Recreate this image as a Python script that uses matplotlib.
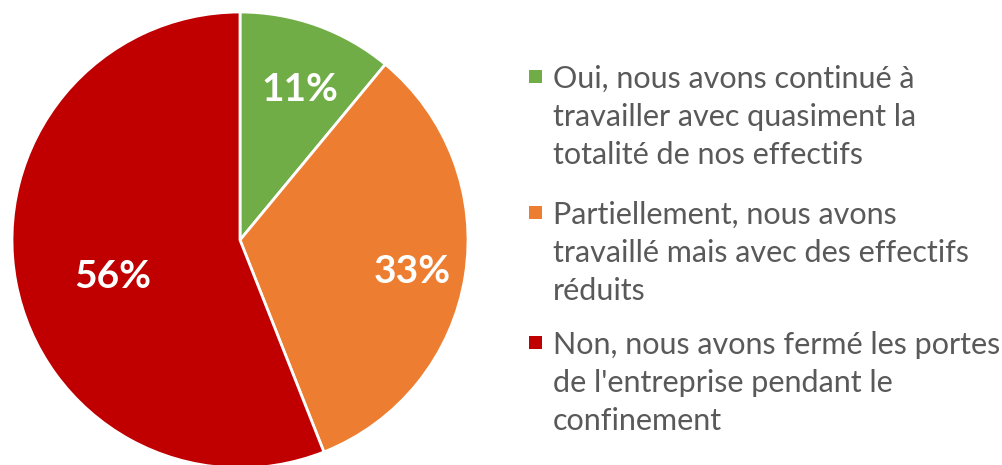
import matplotlib
matplotlib.use("Agg")
import matplotlib.pyplot as plt
from matplotlib.patches import Rectangle

plt.rcParams['font.family'] = ['Lato', 'DejaVu Sans']

# data
labels = ["Oui, nous avons continué à\ntravailler avec quasiment la\ntotalité de nos effectifs",
          "Partiellement, nous avons\ntravaillé mais avec des effectifs\nréduits",
          "Non, nous avons fermé les portes\nde l'entreprise pendant le\nconfinement"]
values = [11, 33, 56]
colors = ['#70AD47', '#ED7D31', '#C00000']

# where the percentage labels sit inside the pie (axes units, radius = 1)
pct_pos = [(0.263, 0.658), (0.754, -0.14), (-0.557, -0.162)]

W, H = 1002, 465
fig = plt.figure(figsize=(W / 100, H / 100), dpi=100)
ax = fig.add_axes([12 / W, -3 / H, 456 / W, 456 / H])

wedges, texts, autotexts = ax.pie(values, colors=colors, startangle=90, counterclock=False,
                                  autopct='%d%%',
                                  wedgeprops=dict(edgecolor='white', linewidth=2))
ax.set_aspect('equal')
ax.set_xlim(-1, 1)
ax.set_ylim(-1, 1)

for t, p in zip(autotexts, pct_pos):
    t.set_position(p)
    t.set_color('white')
    t.set_fontsize(28)
    t.set_fontweight('bold')

# legend drawn by hand: square + wrapped text, baselines in pixels from top
first_baselines = [88, 224, 354]
line_pitch = 38
for lab, c, y0 in zip(labels, colors, first_baselines):
    fig.patches.append(Rectangle((529 / W, 1 - (y0 - 5) / H), 13 / W, 13 / H,
                                 transform=fig.transFigure, facecolor=c, edgecolor='none'))
    for i, line in enumerate(lab.split('\n')):
        fig.text(553 / W, 1 - (y0 + i * line_pitch) / H, line, fontsize=22,
                 color='#595959', va='baseline', ha='left')

fig.savefig('out.png', dpi=100)
